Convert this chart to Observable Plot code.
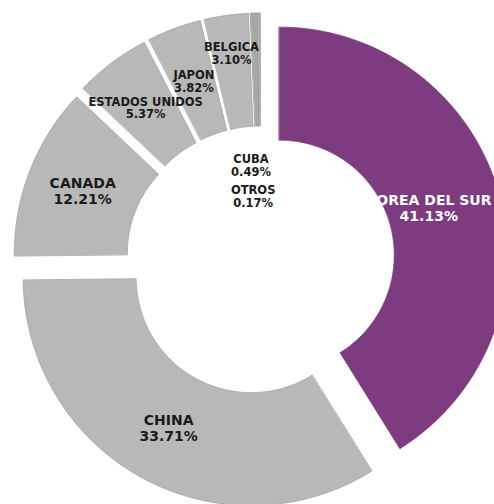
<!DOCTYPE html>
<html><head><meta charset="utf-8">
<script src="https://cdn.jsdelivr.net/npm/d3@7"></script>
<script src="https://cdn.jsdelivr.net/npm/@observablehq/plot@0.6"></script>
<style>body{margin:0;background:#fff}#chart{width:494px;height:504px}</style>
</head><body><div id="chart"></div>
<script>
// Data
const countries = ["COREA DEL SUR","CHINA","CANADA","ESTADOS UNIDOS","JAPON","BELGICA","CUBA","OTROS"];
const shares = [41.13, 33.71, 12.21, 5.37, 3.82, 3.10, 0.49, 0.17];
const sliceColors = ["#7d3b80","#b8b8b8","#b8b8b8","#b8b8b8","#b8b8b8","#b9b9b9","#a4aaa2","#b0b0b0"];
const edgeColors  = ["#7d3b80","#a2a2a2","#a2a2a2","#a2a2a2","#a2a2a2","#a2a2a2","#8f968d","#9c9c9c"];
const labelColors = ["#ffffff","#1a1a1a","#1a1a1a","#1a1a1a","#1a1a1a","#1a1a1a","#1a1a1a","#1a1a1a"];
const bigLabels = ["COREA DEL SUR","CHINA","CANADA"];

// Geometry (style)
const W = 494, H = 504, cx = 260, cy = 260;
const R = 228, r = 115, explode = 19.5;
const labelRadiusOverride = {BELGICA: {lr: 190, dx: 0}, CUBA: {lr: 76, dx: -7}, OTROS: {lr: 45, dx: -7}};
const bigSize = 14, smallSize = 11.5;
const fontFamily = "DejaVu Sans, Verdana, sans-serif";

const rows = countries.map((name, i) => ({name, share: shares[i], color: sliceColors[i], edge: edgeColors[i], labelColor: labelColors[i]}));
const arcs = d3.pie().sort(null).value(d => d.share)(rows);

const points = [];
const labels = [];
const ctx = document.createElement("canvas").getContext("2d");
for (const a of arcs) {
  const d = a.data;
  const mid = (a.startAngle + a.endAngle) / 2;
  const ox = explode * Math.sin(mid), oy = explode * Math.cos(mid);
  const n = Math.max(2, Math.ceil((a.endAngle - a.startAngle) / 0.01));
  for (let k = 0; k <= n; k++) {
    const t = a.startAngle + (a.endAngle - a.startAngle) * k / n;
    points.push({name: d.name, color: d.color, edge: d.edge, x: ox + R * Math.sin(t), y: oy + R * Math.cos(t)});
  }
  for (let k = n; k >= 0; k--) {
    const t = a.startAngle + (a.endAngle - a.startAngle) * k / n;
    points.push({name: d.name, color: d.color, edge: d.edge, x: ox + r * Math.sin(t), y: oy + r * Math.cos(t)});
  }
  const ov = labelRadiusOverride[d.name] || {lr: (R + r) / 2, dx: 0};
  const big = bigLabels.includes(d.name);
  const size = big ? bigSize : smallSize;
  let lx = ox + ov.lr * Math.sin(mid) + ov.dx;
  const ly = oy + ov.lr * Math.cos(mid);
  ctx.font = `bold ${size}px ${fontFamily}`;
  const half = ctx.measureText(d.name).width / 2;
  lx = Math.min(lx, (W - 3 - half) - cx);
  labels.push({name: d.name, text: d.name + "\n" + d.share.toFixed(2) + "%", x: lx, y: ly, big, labelColor: d.labelColor});
}

const chart = Plot.plot({
  width: W, height: H,
  margin: 0,
  x: {domain: [-cx, W - cx], axis: null},
  y: {domain: [-(H - cy), cy], axis: null},
  color: {type: "identity"},
  style: {background: "#ffffff", overflow: "visible"},
  marks: [
    Plot.line(points, {x: "x", y: "y", z: "name", fill: "color", stroke: "edge", strokeWidth: 0.8, curve: "linear-closed"}),
    Plot.text(labels.filter(d => d.big), {x: "x", y: "y", text: "text", fill: "labelColor", fontSize: bigSize, fontWeight: "bold", fontFamily, lineHeight: 1.12}),
    Plot.text(labels.filter(d => !d.big), {x: "x", y: "y", text: "text", fill: "labelColor", fontSize: smallSize, fontWeight: "bold", fontFamily, lineHeight: 1.12})
  ]
});
document.getElementById("chart").appendChild(chart);
</script>
</body></html>
